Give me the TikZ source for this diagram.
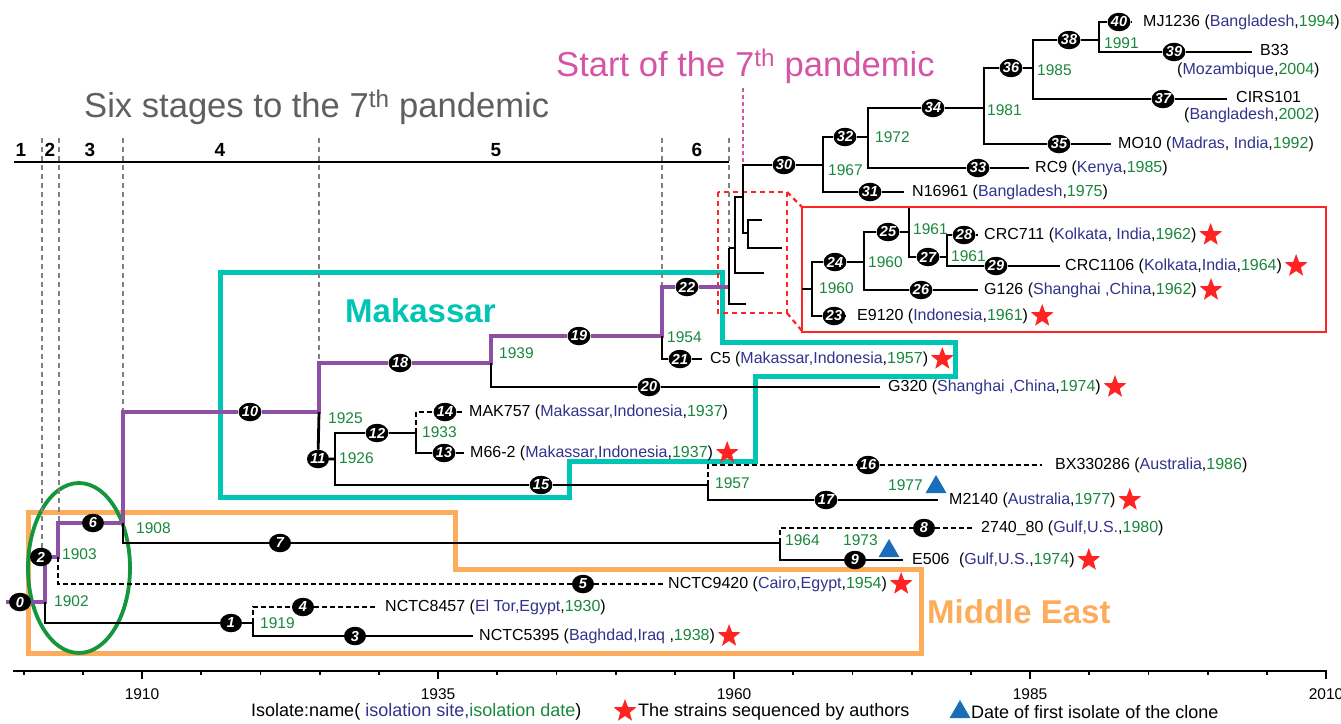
\documentclass[tikz,border=0pt]{standalone}
\usepackage{fontspec}
\setmainfont{Liberation Sans}
\usetikzlibrary{shapes.geometric}
\pgfdeclarelayer{bb}\pgfdeclarelayer{bg}\pgfsetlayers{bb,bg,main}
\definecolor{tealc}{RGB}{0,196,180}
\definecolor{orangec}{RGB}{253,172,92}
\definecolor{purpc}{RGB}{142,80,165}
\definecolor{greenc}{RGB}{20,150,60}
\definecolor{grc}{RGB}{25,135,60}
\definecolor{blc}{RGB}{50,50,140}
\definecolor{redc}{RGB}{255,35,35}
\definecolor{pinkc}{RGB}{214,84,166}
\definecolor{grayt}{RGB}{95,95,95}
\definecolor{grayd}{RGB}{128,128,128}
\definecolor{bluec}{RGB}{25,110,185}
\newcommand\fsz[1]{\fontsize{#1}{#1}\selectfont}
\newcommand\sitec[1]{\textcolor{blc}{#1}}
\newcommand\datec[1]{\textcolor{grc}{#1}}
\tikzset{
 br/.style={line width=2.8pt, black},
 mbr/.style={line width=2.5pt, black},
 pbr/.style={line width=4.5pt, purpc},
 dbr/.style={line width=2.6pt, black, dash pattern=on 5pt off 3pt},
 nd/.style={ellipse, fill=black, text=white, inner sep=0pt, minimum width=22pt, minimum height=18.5pt, font=\fsz{14.5}\bfseries\itshape},
 lbl/.style={anchor=west, inner sep=1pt, font=\fsz{16}},
 yr/.style={anchor=west, inner sep=1pt, text=grc, font=\fsz{15.5}},
 strn/.style={star, star points=5, star point ratio=2.4, fill=redc, inner sep=0pt, minimum size=24pt},
 tri/.style={regular polygon, regular polygon sides=3, fill=bluec, inner sep=0pt, minimum size=24pt},
 stg/.style={font=\fsz{19}\bfseries, inner sep=0pt},
 gdash/.style={grayd, line width=1.9pt, dash pattern=on 5pt off 4pt},
 rdash/.style={redc, line width=2.2pt, dash pattern=on 5pt off 4pt},
 ttl/.style={anchor=base west, inner sep=0pt, font=\fsz{34.6}},
 axl/.style={inner sep=0pt, font=\fsz{15.5}},
 leg/.style={anchor=west, inner sep=0pt, font=\fsz{18}},
}
\begin{document}
\begin{tikzpicture}[x=1pt,y=-1pt]
\useasboundingbox (0,0) rectangle (1341,723);

% ---------- titles ----------
\node[ttl, text=grayt] (t6) at (84,117) {Six stages to the 7\textsuperscript{th} pandemic};
\node[ttl, text=pinkc] (t7) at (556,76) {Start of the 7\textsuperscript{th} pandemic};
\node[ttl, text=tealc, font=\fsz{33}\bfseries] (mk) at (345,322) {Makassar};
\node[ttl, text=orangec, font=\fsz{33}\bfseries] (me) at (927,623) {Middle East};

% ---------- stage labels ----------
\node[stg] (sg1) at (21,150) {1};
\node[stg] (sg2) at (50,150) {2};
\node[stg] (sg3) at (90,150) {3};
\node[stg] (sg4) at (220,150) {4};
\node[stg] (sg5) at (496,150) {5};
\node[stg] (sg6) at (697,150) {6};

% ---------- tree nodes ----------
\foreach \i/\px/\py in {0/20/602,1/231/623,2/41/557,3/355/636,4/303/607,5/583/584,
 6/93/523,7/280/543,8/924/528,9/855/560,10/250/412,11/318/459,12/377/433,13/444/453,
 14/445/412,15/541/485,16/868/465,17/826/500,18/400/363,19/579/336,20/649/387,
 21/680/359,22/687/287,23/834/316,24/835/262,25/888/232,26/921/290,27/928/257,
 28/964/235,29/996/266,30/784/165,31/870/192,32/845/137,33/978/168,34/933/108,
 35/1059/144,36/1011/68,37/1163/99,38/1069/40,39/1174/52,40/1119/22}
 {\node[nd] (n\i) at (\px,\py) {\i};}

% ---------- isolate labels ----------
\node[lbl] (l40) at (1142,22) {MJ1236 (\sitec{Bangladesh},\datec{1994})};
\node[lbl] (l39a) at (1259,50) {B33};
\node[lbl] (l39b) at (1176,70) {(\sitec{Mozambique},\datec{2004})};
\node[lbl] (l37a) at (1235,97) {CIRS101};
\node[lbl] (l37b) at (1183,115) {(\sitec{Bangladesh},\datec{2002})};
\node[lbl] (l35) at (1117,144) {MO10 (\sitec{Madras}, \sitec{India},\datec{1992})};
\node[lbl] (l33) at (1034,168) {RC9 (\sitec{Kenya},\datec{1985})};
\node[lbl] (l31) at (911,192) {N16961 (\sitec{Bangladesh},\datec{1975})};
\node[lbl] (l28) at (983,235) {CRC711 (\sitec{Kolkata}, \sitec{India},\datec{1962})};
\node[lbl] (l29) at (1064,266) {CRC1106 (\sitec{Kolkata},\sitec{India},\datec{1964})};
\node[lbl] (l26) at (983,290) {G126 (\sitec{Shanghai ,China},\datec{1962})};
\node[lbl] (l23) at (856,316) {E9120 (\sitec{Indonesia},\datec{1961})};
\node[lbl] (l21) at (709,359) {C5 (\sitec{Makassar,Indonesia},\datec{1957})};
\node[lbl] (l20) at (887,387) {G320 (\sitec{Shanghai ,China},\datec{1974})};
\node[lbl] (l14) at (468,412) {MAK757 (\sitec{Makassar,Indonesia},\datec{1937})};
\node[lbl] (l13) at (469,453) {M66-2 (\sitec{Makassar,Indonesia},\datec{1937})};
\node[lbl] (l16) at (1054,465) {BX330286 (\sitec{Australia},\datec{1986})};
\node[lbl] (l17) at (948,500) {M2140 (\sitec{Australia},\datec{1977})};
\node[lbl] (l8) at (980,528) {2740\_80 (\sitec{Gulf,U.S.},\datec{1980})};
\node[lbl] (l9) at (911,560) {E506\hspace{5pt} (\sitec{Gulf,U.S.},\datec{1974})};
\node[lbl] (l5) at (667,584) {NCTC9420 (\sitec{Cairo,Egypt},\datec{1954})};
\node[lbl] (l4) at (384,607) {NCTC8457 (\sitec{El Tor,Egypt},\datec{1930})};
\node[lbl] (l3) at (478,636) {NCTC5395 (\sitec{Baghdad,Iraq} ,\datec{1938})};

% stars
\foreach \l in {28,29,26,23,21,20,13,17,9,5,3}
 {\node[strn] (s\l) at ([xshift=13pt]l\l.east) {};}

% triangles
\node[tri] (tr77) at (936,487) {};
\node[tri] (tr73) at (889,551) {};

% ---------- year labels ----------
\node[yr] (y02) at (53,601) {1902};
\node[yr] (y03) at (61,554) {1903};
\node[yr] (y08) at (135,528) {1908};
\node[yr] (y19) at (259,623) {1919};
\node[yr] (y25) at (327,418) {1925};
\node[yr] (y26) at (338,458) {1926};
\node[yr] (y33) at (421,432) {1933};
\node[yr] (y39) at (498,353) {1939};
\node[yr] (y54) at (666,337) {1954};
\node[yr] (y57) at (714,483) {1957};
\node[yr] (y64) at (784,540) {1964};
\node[yr] (y73) at (842,540) {1973};
\node[yr] (y77) at (887,485) {1977};
\node[yr] (y60a) at (818,288) {1960};
\node[yr] (y60b) at (867,262) {1960};
\node[yr] (y61a) at (912,229) {1961};
\node[yr] (y61b) at (950,256) {1961};
\node[yr] (y67) at (827,170) {1967};
\node[yr] (y72) at (874,137) {1972};
\node[yr] (y81) at (986,110) {1981};
\node[yr] (y85) at (1036,70) {1985};
\node[yr] (y91) at (1103,43) {1991};

% ---------- time axis ----------
\draw[line width=2.2pt] (13,671) -- (1327,671);
\foreach \yy in {1900,1905,...,2005}
 {\draw[line width=1.8pt] ({142+(\yy-1910)*11.84},671) -- ++(0,4);}
\foreach \yy in {1910,1935,1960,1985,2010}
 {\draw[line width=2pt] ({142+(\yy-1910)*11.84},671) -- ++(0,8);
  \node[axl] (ax\yy) at ({142+(\yy-1910)*11.84},694) {\yy};}

% ---------- legend ----------
\node[leg] (lg1) at (251,712) {Isolate:name( \sitec{isolation site,}\datec{isolation date})};
\node[strn] (lgs) at (625,711) {};
\node[leg] (lg2) at (638,712) {The strains sequenced by authors};
\node[tri] (lgt) at (960,712) {};
\node[leg] (lg3) at (971,712) {Date of first isolate of the clone};

% ---------- boxes (back layer) ----------
\begin{pgfonlayer}{bb}
\draw[tealc, line width=5pt] (220,272) -- (722,272) -- (722,342) -- (955,342) -- (955,376)
  -- (755,376) -- (755,461) -- (569,461) -- (569,497) -- (220,497) -- cycle;
\draw[orangec, line width=5pt] (28,512) -- (455,512) -- (455,569) -- (921,569) -- (921,653)
  -- (28,653) -- cycle;
\draw[greenc, line width=3.8pt] (79,568) ellipse [x radius=51, y radius=85];
\draw[redc, line width=2.4pt] (802,207) rectangle (1326,332);
\draw[rdash] (718,192) rectangle (787,313);
\draw[rdash] (787,192) -- (802,207);
\draw[rdash] (787,313) -- (802,331);
\foreach \gx/\gy in {42/550,59/521,123/410,319/361,662/285,729/247}
 {\draw[gdash] (\gx,138) -- (\gx,\gy);}
\draw[line width=2.8pt] (14,162) -- (729,162);
\draw[pinkc, line width=2.2pt, dash pattern=on 4pt off 3pt] (743,88) -- (743,163);
\end{pgfonlayer}

% ---------- branches ----------
\begin{pgfonlayer}{bg}
% purple backbone
\draw[pbr] (n0.west) -- ++(-3,0);
\draw[pbr] (n0) -- (45,602) -- (45,557) -- (58,557) -- (58,523) -- (n6);
\draw[pbr] (n6) -- (123,523) |- (n10);
\draw[pbr] (n10) -- (319,412) |- (n18);
\draw[pbr] (n18) -- (491,363) |- (n19);
\draw[pbr] (n19) -- (662,336) |- (n22);
\draw[pbr] (n22) -- (729,287);
% early lineages
\draw[br] (45,602) |- (n1) -- (253,623) |- (n3) -- (473,636);
\draw[dbr] (253,623) |- (n4) -- (377,607);
\draw[dbr] (58,557) |- (n5) -- (663,584);
\draw[br] (123,523) |- (n7) -- (780,543) |- (n9) -- (903,560);
\draw[dbr] (780,543) |- (n8) -- (974,528);
% Makassar
\draw[br] (319,412) -- (n11) -- (335,459);
\draw[br] (n12) -| (335,485) -- (n15) -- (708,485) |- (n17) -- (938,500);
\draw[br] (n12) -- (416,433) |- (n13) -- (464,453);
\draw[dbr] (416,433) |- (n14) -- (464,412);
\draw[dbr] (708,485) |- (n16) -- (1042,465);
\draw[br] (491,363) |- (n20) -- (880,387);
\draw[br] (662,336) |- (n21) -- (702,359);
% mini tree in dashed box
\draw[mbr] (729,248) -- (729,304) -- (746,304);
\draw[mbr] (729,248) -- (735,248);
\draw[mbr] (743,197) -- (735,197) -- (735,273) -- (764,273);
\draw[mbr] (748,233) -- (743,233) -- (743,165) -- (n30);
\draw[mbr] (762,220) -- (748,220) -- (748,248) -- (782,248);
% 7th pandemic clade
\draw[br] (n30) -- (823,165);
\draw[br] (n32) -| (823,165) |- (n31) -- (904,192);
\draw[br] (n32) -- (868,137);
\draw[br] (n34) -| (868,137) |- (n33) -- (1029,168);
\draw[br] (n34) -- (984,108);
\draw[br] (n36) -| (984,108) |- (n35) -- (1111,144);
\draw[br] (n36) -- (1033,68);
\draw[br] (n38) -| (1033,68) |- (n37) -- (1227,99);
\draw[br] (n38) -- (1099,40);
\draw[br] (n40) -| (1099,40) |- (n39) -- (1252,52);
\draw[br] (n40) -- (1131,22);
% zoomed subtree
\draw[br] (802,289) -- (812,289);
\draw[br] (n24) -| (812,289) |- (n23) -- (843,316);
\draw[br] (n24) -- (864,262);
\draw[br] (n25) -| (864,262) |- (n26) -- (978,290);
\draw[br] (n25) -- (909,232);
\draw[br] (909,208) -- (909,257) -- (n27) -- (947,257);
\draw[br] (n28) -| (947,257) |- (n29) -- (1060,266);
\draw[br] (n28) -- (978,235);
\end{pgfonlayer}
\end{tikzpicture}
\end{document}
